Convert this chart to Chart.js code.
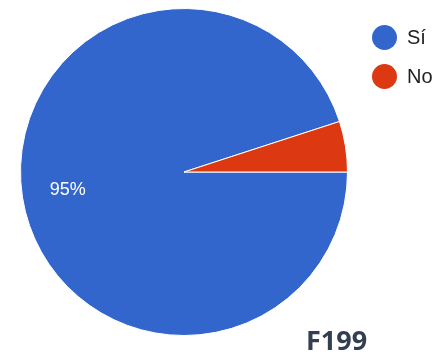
<!DOCTYPE html>
<html>
<head>
<meta charset="utf-8">
<script src="https://cdn.jsdelivr.net/npm/chart.js@4"></script>
<style>
  html, body { margin: 0; padding: 0; background: #fff; }
  #wrap { position: relative; width: 439px; height: 354px; overflow: hidden; }
  #c { position: absolute; left: 0; top: 0; }
  .leg { position: absolute; left: 372px; font-family: Arial, "Liberation Sans", sans-serif; font-size: 20px; color: #222; height: 25px; line-height: 25px; white-space: nowrap; }
  .leg span.dot { display: inline-block; width: 25px; height: 25px; border-radius: 50%; vertical-align: top; margin-right: 10px; }
  #title { position: absolute; left: 306px; top: 321px; font-family: "Open Sans", sans-serif; font-weight: bold; font-size: 27px; color: #333F50; }
</style>
</head>
<body>
<div id="wrap">
  <canvas id="c" width="439" height="354"></canvas>
  <div id="legend"></div>
  <div id="title">F199</div>
</div>
<script>
const categories = ["Sí", "No"];
const values = [95, 5];
const colors = ["#3366CC", "#DC3912"];
const labelText = ["95%", ""];
const chartLabel = "F199";

document.getElementById('title').textContent = chartLabel;

const legendEl = document.getElementById('legend');
categories.forEach((c, i) => {
  const d = document.createElement('div');
  d.className = 'leg';
  d.style.top = (25 + i * 39) + 'px';
  d.innerHTML = '<span class="dot" style="background:' + colors[i] + '"></span>' + c;
  legendEl.appendChild(d);
});

const sliceLabels = {
  id: 'sliceLabels',
  afterDatasetsDraw(chart) {
    const ctx = chart.ctx;
    const meta = chart.getDatasetMeta(0);
    meta.data.forEach((arc, i) => {
      if (!labelText[i]) return;
      const p = arc.getProps(['x', 'y', 'startAngle', 'endAngle', 'outerRadius'], true);
      const mid = (p.startAngle + p.endAngle) / 2;
      const r = p.outerRadius * 0.72;
      ctx.save();
      ctx.fillStyle = '#fff';
      ctx.font = '18px Arial, "Liberation Sans", sans-serif';
      ctx.textAlign = 'center';
      ctx.textBaseline = 'middle';
      ctx.fillText(labelText[i], p.x + Math.cos(mid) * r, p.y + Math.sin(mid) * r);
      ctx.restore();
    });
  }
};

new Chart(document.getElementById('c'), {
  type: 'pie',
  data: {
    labels: categories,
    datasets: [{
      data: values,
      backgroundColor: colors,
      borderColor: '#fff',
      borderWidth: 1
    }]
  },
  options: {
    responsive: false,
    animation: false,
    rotation: 90,
    layout: { padding: { left: 20, right: 91, top: 8, bottom: 18 } },
    plugins: { legend: { display: false }, tooltip: { enabled: false } }
  },
  plugins: [sliceLabels]
});
</script>
</body>
</html>
